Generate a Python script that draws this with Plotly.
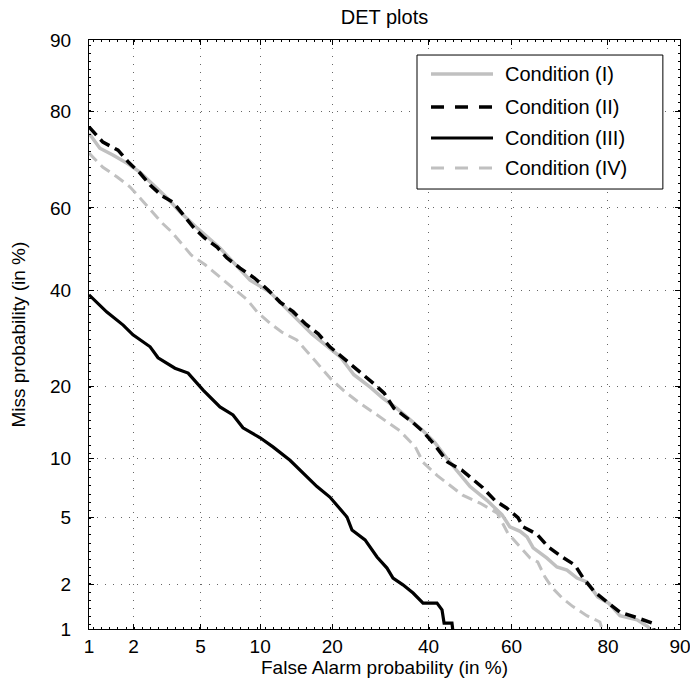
from statistics import NormalDist
import plotly.graph_objects as go

# DET curves: false alarm and miss probabilities, in percent
fa_1 = [1.0, 1.19, 1.46, 1.79, 2.20, 2.61, 3.22, 3.83, 4.72, 6.34, 8.96, 11.1, 16.7, 21.4,
        23.9, 27.1, 29.7, 32.7, 35.7, 38.7, 41.5, 45.1, 50.0, 54.1, 57.7, 59.6, 62.0, 63.6,
        65.0, 68.0, 70.2, 72.3, 74.3, 76.2, 78.2, 80.2, 82.0, 84.6, 86.1, 86.4]
miss_1 = [76.1, 73.2, 71.8, 70.2, 68.1, 65.7, 62.3, 59.0, 55.4, 50.3, 42.5, 39.6, 30.2, 25.5,
          22.1, 19.9, 18.1, 16.5, 14.8, 13.3, 11.8, 9.6, 7.3, 6.2, 5.2, 4.45, 4.2, 3.9,
          3.37, 2.93, 2.58, 2.47, 2.20, 2.08, 1.66, 1.50, 1.24, 1.16, 1.04, 0.99]

fa_2 = [1.0, 1.25, 1.58, 1.84, 2.20, 2.54, 3.00, 3.49, 3.97, 4.55, 5.23, 6.12, 6.87, 8.01,
        9.4, 10.9, 12.3, 14.0, 15.8, 17.7, 19.6, 21.9, 24.7, 27.7, 30.0, 32.1, 36.2, 38.7,
        41.5, 44.6, 48.0, 50.7, 53.1, 56.0, 58.8, 61.5, 62.7, 65.8, 68.3, 71.3, 73.9, 75.5,
        77.7, 79.9, 82.0, 84.6, 86.7, 86.9]
miss_2 = [77.3, 74.4, 72.8, 70.4, 67.9, 65.3, 62.8, 61.3, 58.5, 55.4, 52.8, 50.5, 47.9, 45.4,
          43.0, 40.1, 37.3, 35.1, 32.3, 30.2, 27.5, 25.3, 23.0, 20.6, 18.9, 16.5, 14.5, 13.2,
          11.5, 9.6, 8.8, 7.9, 7.2, 6.2, 5.65, 5.0, 4.45, 4.05, 3.42, 2.97, 2.65, 2.20,
          1.78, 1.53, 1.31, 1.20, 1.10, 0.99]

fa_3 = [1.0, 1.33, 1.71, 1.98, 2.54, 2.84, 3.58, 4.26, 5.16, 6.34, 7.39, 8.28, 10.0, 11.44,
        13.58, 17.5, 19.6, 20.84, 22.62, 23.55, 26.07, 28.5, 30.6, 31.9, 34.1, 36.4, 38.7,
        42.0, 43.2, 43.7, 45.6, 45.8]
miss_3 = [39.0, 35.0, 32.1, 30.0, 27.5, 25.3, 23.3, 22.4, 19.4, 16.7, 15.5, 13.7, 12.4, 11.3,
          9.8, 7.3, 6.45, 5.86, 5.05, 4.27, 3.75, 2.97, 2.54, 2.20, 1.99, 1.76, 1.51,
          1.51, 1.36, 1.10, 1.10, 0.98]

fa_4 = [1.0, 1.25, 1.56, 1.89, 2.26, 2.61, 3.00, 3.43, 3.91, 4.43, 5.29, 6.34, 7.39, 8.7,
        9.7, 11.1, 12.5, 14.5, 16.0, 18.0, 19.9, 22.3, 24.7, 27.7, 30.6, 33.4, 36.9, 38.7,
        42.0, 45.1, 48.2, 52.4, 56.6, 59.1, 62.0, 64.3, 66.0, 67.6, 69.1, 71.3, 73.5, 76.2,
        78.6, 79.0]
miss_4 = [72.2, 69.2, 67.1, 64.9, 61.8, 59.0, 56.4, 54.2, 51.5, 48.6, 46.2, 43.2, 40.6, 37.8,
          35.0, 32.5, 30.6, 28.9, 26.5, 23.6, 21.2, 19.1, 17.5, 15.9, 14.5, 13.3, 11.3, 9.6,
          8.3, 7.4, 6.6, 6.0, 5.3, 4.1, 3.42, 2.93, 2.77, 2.24, 1.92, 1.63, 1.43, 1.24,
          1.12, 0.99]

tick_pct = [1, 2, 5, 10, 20, 40, 60, 80, 90]
tick_labels = ["1", "2", "5", "10", "20", "40", "60", "80", "90"]

names = ["Condition (I)", "Condition (II)", "Condition (III)", "Condition (IV)"]
colors = ["#c0c0c0", "#000000", "#000000", "#c0c0c0"]
dashes = ["solid", "11px,6px", "solid", "11px,6px"]
legend_dashes = ["solid", "13px,11px", "solid", "13px,11px"]
widths = [3.5, 3.5, 3.2, 3.0]

FONT = "Liberation Sans, Arial, sans-serif"

_nd = NormalDist()


def probit(pct_list):
    """Map percentages onto the normal-deviate scale used by DET plots."""
    return [_nd.inv_cdf(p / 100.0) for p in pct_list]


fig = go.Figure()
series = [(fa_1, miss_1), (fa_2, miss_2), (fa_3, miss_3), (fa_4, miss_4)]
for (fa, miss), name, col, dsh, w in zip(series, names, colors, dashes, widths):
    fig.add_trace(go.Scatter(
        x=probit(fa), y=probit(miss), mode="lines", name=name,
        line=dict(color=col, dash=dsh, width=w), showlegend=False,
    ))

tick_z = probit(tick_pct)
axis_common = dict(
    tickmode="array", tickvals=tick_z, ticktext=tick_labels,
    range=[tick_z[0], tick_z[-1]],
    automargin=False, ticklabeloverflow="allow",
    showline=True, linecolor="black", linewidth=1, mirror="allticks",
    ticks="inside", ticklen=5, tickcolor="black", tickwidth=1,
    showgrid=True, gridcolor="#666666", gridwidth=1, griddash="1px,7px",
    zeroline=False,
    minor=dict(ticks="inside", ticklen=2, tickcolor="black", tick0=0, dtick=0.05,
               showgrid=False),
    tickfont=dict(family=FONT, size=19, color="black"),
)

fig.update_xaxes(**axis_common, ticklabelstandoff=0)
fig.update_yaxes(**axis_common, ticklabelstandoff=13)

# Axis titles
fig.add_annotation(xref="paper", yref="paper", x=0.5, y=-0.0655,
                   text="False Alarm probability (in %)", showarrow=False,
                   xanchor="center", yanchor="middle",
                   font=dict(family=FONT, size=19, color="black"))
fig.add_annotation(xref="paper", yref="paper", x=-0.1201, y=0.5,
                   text="Miss probability (in %)", showarrow=False, textangle=-90,
                   xanchor="center", yanchor="middle",
                   font=dict(family=FONT, size=19, color="black"))

# Legend box drawn in paper coordinates
leg_x0, leg_x1, leg_y0, leg_y1 = 0.555, 0.971, 0.747, 0.9745
fig.add_shape(type="rect", xref="paper", yref="paper",
              x0=leg_x0, x1=leg_x1, y0=leg_y0, y1=leg_y1,
              line=dict(color="black", width=1), fillcolor="white", layer="above")
row_y = [0.9423, 0.8862, 0.8336, 0.7827]
for ry, name, col, dsh, w in zip(row_y, names, colors, legend_dashes, widths):
    fig.add_shape(type="line", xref="paper", yref="paper",
                  x0=0.5787, x1=0.6836, y0=ry, y1=ry,
                  line=dict(color=col, dash=dsh, width=w), layer="above")
    fig.add_annotation(xref="paper", yref="paper", x=0.7000, y=ry, text=name,
                       showarrow=False, xanchor="left", yanchor="middle",
                       font=dict(family=FONT, size=20, color="black"))

fig.update_layout(
    width=690, height=684,
    margin=dict(l=89, r=10, t=40, b=55),
    paper_bgcolor="white", plot_bgcolor="white",
    title=dict(text="DET plots", x=0.5573, xanchor="center", y=0.975, yanchor="middle",
               font=dict(family=FONT, size=20, color="black")),
    showlegend=False,
)

fig.write_html("out.html")
